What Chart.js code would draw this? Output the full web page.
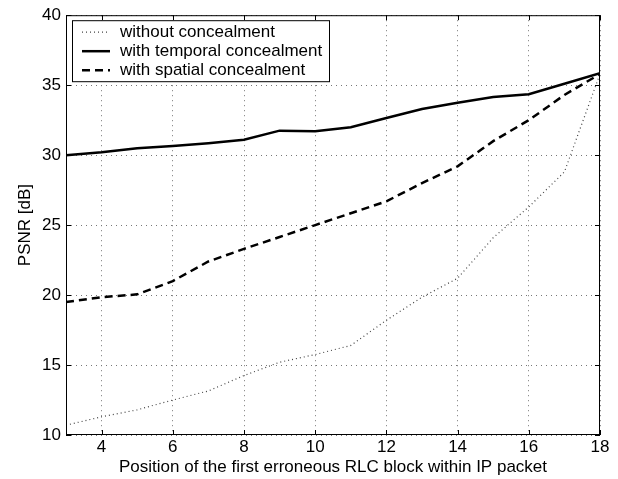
<!DOCTYPE html>
<html>
<head>
<meta charset="utf-8">
<script src="https://cdn.jsdelivr.net/npm/chart.js@4"></script>
<style>
  body { margin: 0; background: #fff; }
</style>
</head>
<body>
<canvas id="c" width="618" height="479"></canvas>
<script>
// data
const positions = [3, 4, 5, 6, 7, 8, 9, 10, 11, 12, 13, 14, 15, 16, 17, 18];
const withoutConcealment = [10.7, 11.3, 11.8, 12.5, 13.15, 14.25, 15.2, 15.75, 16.4, 18.2, 19.85, 21.2, 24.1, 26.3, 28.8, 35.8];
const temporalConcealment = [30.0, 30.2, 30.5, 30.65, 30.85, 31.1, 31.75, 31.7, 32.0, 32.65, 33.3, 33.75, 34.15, 34.35, 35.1, 35.85];
const spatialConcealment = [19.5, 19.85, 20.05, 21.0, 22.4, 23.3, 24.15, 25.0, 25.85, 26.7, 28.0, 29.2, 31.0, 32.5, 34.3, 35.8];
const xTicks = [4, 6, 8, 10, 12, 14, 16, 18];
const yTicks = [10, 15, 20, 25, 30, 35, 40];

const FONT = 'Liberation Sans, Arial, Helvetica, sans-serif';
const FSIZE = 17;

const toPoints = ys => ys.map((y, i) => ({ x: positions[i], y: y }));

// box around the plot, inward tick marks and the boxed legend (matlab look)
const matlabFrame = {
  id: 'matlabFrame',
  afterDraw(chart) {
    const ctx = chart.ctx;
    const a = chart.chartArea;
    const xs = chart.scales.x, ys = chart.scales.y;
    ctx.save();
    ctx.strokeStyle = '#000';
    ctx.lineWidth = 1;
    ctx.setLineDash([]);
    ctx.strokeRect(a.left + 0.5, a.top + 0.5, a.right - a.left - 1, a.bottom - a.top - 1);
    const t = 5;
    ctx.beginPath();
    xs.ticks.forEach(tk => {
      const px = Math.round(xs.getPixelForValue(tk.value)) + 0.5;
      ctx.moveTo(px, a.bottom); ctx.lineTo(px, a.bottom - t);
      ctx.moveTo(px, a.top); ctx.lineTo(px, a.top + t);
    });
    ys.ticks.forEach(tk => {
      const py = Math.round(ys.getPixelForValue(tk.value)) + 0.5;
      ctx.moveTo(a.left, py); ctx.lineTo(a.left + t, py);
      ctx.moveTo(a.right, py); ctx.lineTo(a.right - t, py);
    });
    ctx.stroke();

    // legend
    const bx = a.left + 6, by = a.top + 5, bw = 257, bh = 61;
    ctx.fillStyle = '#fff';
    ctx.fillRect(bx, by, bw, bh);
    ctx.strokeRect(bx + 0.5, by + 0.5, bw, bh);
    ctx.font = FSIZE + 'px ' + FONT;
    ctx.textBaseline = 'middle';
    chart.data.datasets.forEach((ds, i) => {
      const y = by + 12 + i * 19;
      ctx.beginPath();
      ctx.strokeStyle = ds.borderColor;
      ctx.lineWidth = ds.borderWidth;
      ctx.setLineDash(ds.borderDash || []);
      ctx.moveTo(bx + 10, y);
      ctx.lineTo(bx + 38, y);
      ctx.stroke();
      ctx.setLineDash([]);
      ctx.fillStyle = '#000';
      ctx.fillText(ds.label, bx + 48, y);
    });
    ctx.restore();
  }
};

new Chart(document.getElementById('c'), {
  type: 'line',
  data: {
    datasets: [
      {
        label: 'without concealment',
        data: toPoints(withoutConcealment),
        borderColor: '#444',
        borderWidth: 1.2,
        borderDash: [1, 3],
        pointRadius: 0,
        tension: 0
      },
      {
        label: 'with temporal concealment',
        data: toPoints(temporalConcealment),
        borderColor: '#000',
        borderWidth: 2.5,
        pointRadius: 0,
        tension: 0
      },
      {
        label: 'with spatial concealment',
        data: toPoints(spatialConcealment),
        borderColor: '#000',
        borderWidth: 2.5,
        borderDash: [8, 5],
        pointRadius: 0,
        tension: 0
      }
    ]
  },
  options: {
    responsive: false,
    animation: false,
    layout: { padding: { top: 14, right: 18, left: 0, bottom: 0 } },
    plugins: {
      legend: { display: false },
      tooltip: { enabled: false }
    },
    scales: {
      x: {
        type: 'linear',
        min: 3,
        max: 18,
        afterBuildTicks: s => { s.ticks = xTicks.map(v => ({ value: v })); },
        afterFit: s => { s.height = 44; },
        grid: { color: '#777', drawTicks: false },
        border: { display: false, dash: [1, 4] },
        ticks: { color: '#000', padding: 2, maxRotation: 0, font: { family: FONT, size: FSIZE } },
        title: {
          display: true,
          text: 'Position of the first erroneous RLC block within IP packet',
          color: '#000',
          padding: { top: 0, bottom: 1 },
          font: { family: FONT, size: FSIZE }
        }
      },
      y: {
        min: 10,
        max: 40,
        afterBuildTicks: s => { s.ticks = yTicks.map(v => ({ value: v })); },
        afterFit: s => { s.width = 66; },
        grid: { color: '#777', drawTicks: false },
        border: { display: false, dash: [1, 4] },
        ticks: { color: '#000', padding: 5, font: { family: FONT, size: FSIZE } },
        title: {
          display: true,
          text: 'PSNR [dB]',
          color: '#000',
          padding: { top: 15, bottom: 0 },
          font: { family: FONT, size: FSIZE }
        }
      }
    }
  },
  plugins: [matlabFrame]
});
</script>
</body>
</html>
